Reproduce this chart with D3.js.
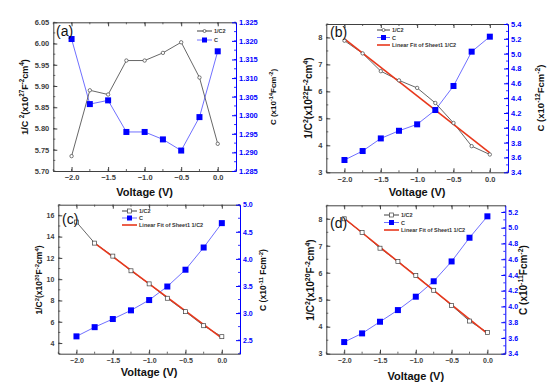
<!DOCTYPE html>
<html>
<head>
<meta charset="utf-8">
<script src="https://cdnjs.cloudflare.com/ajax/libs/d3/7.8.5/d3.min.js"></script>
<style>
  body { margin: 0; background: #fff; }
  svg { font-family: "Liberation Sans", Arial, sans-serif; }
</style>
</head>
<body>
<svg id="chart" width="554" height="385"></svg>
<script>
var voltage = [-2.0, -1.75, -1.5, -1.25, -1.0, -0.75, -0.5, -0.25, 0.0];

// panel (a)
var invC2_a = [5.735, 5.890, 5.880, 5.960, 5.960, 5.978, 6.003, 5.920, 5.764];
var cap_a = [1.3205, 1.3030, 1.3040, 1.2955, 1.2955, 1.2935, 1.2905, 1.2995, 1.3172];
// panel (b)
var invC2_b = [7.88, 7.41, 6.75, 6.41, 6.13, 5.57, 4.83, 3.97, 3.66];
var cap_b = [3.566, 3.687, 3.857, 3.960, 4.047, 4.240, 4.564, 5.027, 5.229];
var fit_b = [[-2.0, 7.95], [0.0, 3.72]];
// panel (c)
var invC2_c = [15.37, 13.39, 12.17, 10.79, 9.56, 8.21, 6.95, 5.63, 4.60];
var cap_c = [2.57, 2.74, 2.89, 3.05, 3.24, 3.49, 3.80, 4.21, 4.66];
var fit_c = [[-1.75, 13.39], [0.0, 4.47]];
// panel (d)
var invC2_d = [8.00, 7.49, 6.91, 6.42, 5.90, 5.35, 4.79, 4.21, 3.79];
var cap_d = [3.548, 3.658, 3.806, 3.954, 4.124, 4.320, 4.572, 4.873, 5.145];
var fit_d = [[-2.0, 8.02], [0.0, 3.74]];

var xTicks = [-2.0, -1.5, -1.0, -0.5, 0.0];
var legendNames = ["1/C2", "C", "Linear Fit of Sheet1 1/C2"];

var svg = d3.select("#chart");
var BLUE = "#0000ff", BLUE_LINE = "#7070ff", GREY = "#404040", RED = "#e8381c";
var FONT = "Liberation Sans, Arial, sans-serif";

function minorTicks(dom, step) {
  return d3.range(Math.ceil(dom[0] / step - 1e-6), Math.floor(dom[1] / step + 1e-6) + 1).map(function (k) { return k * step; });
}

// text with superscripts: parts are strings or {s: "sup"}
function label(t, parts, fs) {
  var shift = fs * 0.4, up = false;
  parts.forEach(function (pt) {
    if (typeof pt === "string") {
      var sp = t.append("tspan").text(pt);
      if (up) { sp.attr("dy", shift); up = false; }
    } else {
      t.append("tspan").attr("dy", up ? 0 : -shift).attr("font-size", fs * 0.7).text(pt.s);
      up = true;
    }
  });
}

function openMark(sel, round, s) {
  sel.attr("fill", "#fff").attr("stroke", GREY).attr("stroke-width", 0.7);
  if (round) sel.attr("r", s / 2);
  else sel.attr("width", s).attr("height", s);
  return sel;
}

function drawPanel(p) {
  var g = svg.append("g");
  var x = d3.scaleLinear().domain([-2.25, 0.25]).range([p.box[0], p.box[1]]);
  var yl = d3.scaleLinear().domain(p.yl).range([p.box[3], p.box[2]]);
  var yr = d3.scaleLinear().domain(p.yr).range([p.box[3], p.box[2]]);

  // minor ticks
  var xm = minorTicks([-2.25, 0.25], 0.25);
  [p.box[3], p.box[2]].forEach(function (yy, i) {
    g.selectAll(null).data(xm).enter().append("line")
      .attr("x1", function (d) { return x(d); }).attr("x2", function (d) { return x(d); })
      .attr("y1", yy).attr("y2", yy + (i === 0 ? -2 : 2))
      .attr("stroke", GREY).attr("stroke-width", 0.8);
  });
  g.selectAll(null).data(minorTicks(p.yl, p.ylMinor)).enter().append("line")
    .attr("x1", p.box[0]).attr("x2", p.box[0] + 2)
    .attr("y1", function (d) { return yl(d); }).attr("y2", function (d) { return yl(d); })
    .attr("stroke", GREY).attr("stroke-width", 0.8);
  g.selectAll(null).data(minorTicks(p.yr, p.yrMinor)).enter().append("line")
    .attr("x1", p.box[1]).attr("x2", p.box[1] - 2)
    .attr("y1", function (d) { return yr(d); }).attr("y2", function (d) { return yr(d); })
    .attr("stroke", BLUE).attr("stroke-width", 0.8);

  // axes
  var ax = g.append("g").attr("transform", "translate(0," + p.box[3] + ")")
    .call(d3.axisBottom(x).tickValues(xTicks).tickFormat(d3.format(".1f")).tickSizeInner(-4).tickSizeOuter(0).tickPadding(4));
  var at = g.append("g").attr("transform", "translate(0," + p.box[2] + ")")
    .call(d3.axisTop(x).tickValues(xTicks).tickFormat("").tickSizeInner(-4).tickSizeOuter(0));
  var al = g.append("g").attr("transform", "translate(" + p.box[0] + ",0)")
    .call(d3.axisLeft(yl).tickValues(p.ylTicks).tickFormat(d3.format(p.ylFmt)).tickSizeInner(-4).tickSizeOuter(0).tickPadding(4));
  var ar = g.append("g").attr("transform", "translate(" + p.box[1] + ",0)")
    .call(d3.axisRight(yr).tickValues(p.yrTicks).tickFormat(d3.format(p.yrFmt)).tickSizeInner(-4).tickSizeOuter(0).tickPadding(3));

  [ax, at, al].forEach(function (a) {
    a.selectAll("path, line").attr("stroke", GREY).attr("stroke-width", 1);
    a.selectAll("text").attr("fill", GREY).attr("font-size", p.tickFont).attr("font-weight", "bold").attr("font-family", FONT);
  });
  ar.selectAll("path, line").attr("stroke", BLUE).attr("stroke-width", 1);
  ar.selectAll("text").attr("fill", BLUE).attr("font-size", p.tickFont).attr("font-weight", "bold").attr("font-family", FONT);

  // series lines
  var lineL = d3.line().x(function (d, i) { return x(voltage[i]); }).y(function (d) { return yl(d); });
  var lineR = d3.line().x(function (d, i) { return x(voltage[i]); }).y(function (d) { return yr(d); });
  g.append("path").attr("d", lineR(p.cap)).attr("fill", "none").attr("stroke", BLUE_LINE).attr("stroke-width", 1);
  g.append("path").attr("d", lineL(p.inv)).attr("fill", "none").attr("stroke", GREY).attr("stroke-width", 0.8);
  if (p.fit) {
    g.append("path").attr("d", d3.line().x(function (d) { return x(d[0]); }).y(function (d) { return yl(d[1]); })(p.fit))
      .attr("fill", "none").attr("stroke", RED).attr("stroke-width", 1.6);
  }
  var ms = p.markSize;
  if (p.round) {
    openMark(g.selectAll(null).data(p.inv).enter().append("circle")
      .attr("cx", function (d, i) { return x(voltage[i]); })
      .attr("cy", function (d) { return yl(d); }), true, ms);
  } else {
    openMark(g.selectAll(null).data(p.inv).enter().append("rect")
      .attr("x", function (d, i) { return x(voltage[i]) - ms / 2; })
      .attr("y", function (d) { return yl(d) - ms / 2; }), false, ms);
  }
  g.selectAll(null).data(p.cap).enter().append("rect")
    .attr("x", function (d, i) { return x(voltage[i]) - 3; })
    .attr("y", function (d) { return yr(d) - 3; })
    .attr("width", 6).attr("height", 6)
    .attr("fill", BLUE);

  // legend
  var lg = p.legend;
  var items = p.fit ? 3 : 2;
  for (var k = 0; k < items; k++) {
    var ly = lg.y + k * lg.dy;
    var col = k === 0 ? GREY : (k === 1 ? BLUE_LINE : RED);
    g.append("line").attr("x1", lg.x).attr("x2", lg.x + lg.w).attr("y1", ly).attr("y2", ly)
      .attr("stroke", col).attr("stroke-width", k === 2 ? 1.6 : 1);
    if (k === 0) {
      if (p.round) openMark(g.append("circle").attr("cx", lg.x + lg.w / 2).attr("cy", ly), true, lg.ms);
      else openMark(g.append("rect").attr("x", lg.x + lg.w / 2 - lg.ms / 2).attr("y", ly - lg.ms / 2), false, lg.ms);
    } else if (k === 1) {
      g.append("rect").attr("x", lg.x + lg.w / 2 - 2.5).attr("y", ly - 2.5).attr("width", 5).attr("height", 5).attr("fill", BLUE);
    }
    g.append("text").attr("x", lg.x + lg.w + 2).attr("y", ly + 2)
      .attr("font-size", lg.font).attr("font-weight", "bold").attr("fill", "#333").text(legendNames[k]);
  }

  // panel letter
  g.append("text").attr("x", p.letter[0]).attr("y", p.letter[1])
    .attr("font-size", 14).attr("fill", "#111").text(p.name);

  // axis titles
  g.append("text").attr("x", (p.box[0] + p.box[1]) / 2).attr("y", p.xTitleY)
    .attr("text-anchor", "middle").attr("font-size", 11).attr("font-weight", "bold").attr("fill", "#111").text("Voltage (V)");
  var lt = g.append("text").attr("transform", "translate(" + p.ylTitle[0] + "," + p.ylTitle[1] + ") rotate(-90)")
    .attr("text-anchor", "middle").attr("font-size", p.titleFont).attr("font-weight", "bold").attr("fill", "#111");
  label(lt, p.ylLabel, p.titleFont);
  var rt = g.append("text").attr("transform", "translate(" + p.yrTitle[0] + "," + p.yrTitle[1] + ") rotate(-90)")
    .attr("text-anchor", "middle").attr("font-size", p.titleFontR).attr("font-weight", "bold").attr("fill", "#111");
  label(rt, p.yrLabel, p.titleFontR);
}

drawPanel({
  name: "(a)", box: [53.3, 236, 22.3, 171], yl: [5.70, 6.05], yr: [1.285, 1.325],
  ylTicks: d3.range(0, 8).map(function (k) { return 5.70 + k * 0.05; }), ylFmt: ".2f", ylMinor: 0.025,
  yrTicks: d3.range(0, 9).map(function (k) { return 1.285 + k * 0.005; }), yrFmt: ".3f", yrMinor: 0.0025,
  inv: invC2_a, cap: cap_a, fit: null, markSize: 3.4, round: true,
  legend: { x: 197, y: 31, dy: 9, w: 15, ms: 3, font: 5.5 },
  letter: [56, 36], xTitleY: 196, tickFont: 7.5, titleFont: 9, titleFontR: 8,
  ylTitle: [28, 97], yrTitle: [276, 97],
  ylLabel: ["1/C ", { s: "2" }, "(x10", { s: "27" }, "F", { s: "-2" }, "cm", { s: "4" }, ")"],
  yrLabel: ["C (x10", { s: "-14" }, "Fcm", { s: "-2" }, ")"]
});

drawPanel({
  name: "(b)", box: [326.3, 508, 24, 172.3], yl: [3, 8.5], yr: [3.4, 5.4],
  ylTicks: [3, 4, 5, 6, 7, 8], ylFmt: "d", ylMinor: 0.5,
  yrTicks: d3.range(0, 11).map(function (k) { return 3.4 + k * 0.2; }), yrFmt: ".1f", yrMinor: 0.1,
  inv: invC2_b, cap: cap_b, fit: fit_b, markSize: 3.4, round: true,
  legend: { x: 377, y: 30, dy: 7.5, w: 13, ms: 3, font: 5.5 },
  letter: [330, 37], xTitleY: 196, tickFont: 7.5, titleFont: 10, titleFontR: 9.5,
  ylTitle: [312, 98], yrTitle: [544, 98],
  ylLabel: ["1/C", { s: "2" }, "(x10", { s: "22" }, "F", { s: "-2" }, "cm", { s: "4" }, ")"],
  yrLabel: ["C (x10", { s: "-12" }, "Fcm", { s: "-2" }, ")"]
});

drawPanel({
  name: "(c)", box: [58.3, 240, 204.7, 353.7], yl: [3, 17], yr: [2.25, 5.0],
  ylTicks: [4, 6, 8, 10, 12, 14, 16], ylFmt: "d", ylMinor: 1,
  yrTicks: [2.5, 3.0, 3.5, 4.0, 4.5, 5.0], yrFmt: ".1f", yrMinor: 0.25,
  inv: invC2_c, cap: cap_c, fit: fit_c, markSize: 4, round: false,
  legend: { x: 122, y: 211, dy: 7, w: 15, ms: 4, font: 5.5 },
  letter: [62, 224], xTitleY: 376, tickFont: 7, titleFont: 8.5, titleFontR: 8.5,
  ylTitle: [42, 280], yrTitle: [266, 280],
  ylLabel: ["1/C", { s: "2" }, "(x10", { s: "20" }, "F", { s: "-2" }, "cm", { s: "4" }, ")"],
  yrLabel: ["C (x10", { s: "-11" }, " Fcm", { s: "-2" }, ")"]
});

drawPanel({
  name: "(d)", box: [326.3, 505.3, 205.3, 353.7], yl: [3, 8.5], yr: [3.4, 5.285],
  ylTicks: [3, 4, 5, 6, 7, 8], ylFmt: "d", ylMinor: 0.5,
  yrTicks: d3.range(0, 10).map(function (k) { return 3.4 + k * 0.2; }), yrFmt: ".1f", yrMinor: 0.1,
  inv: invC2_d, cap: cap_d, fit: fit_d, markSize: 4, round: false,
  legend: { x: 384, y: 215, dy: 7.5, w: 15, ms: 4, font: 5.5 },
  letter: [330, 228], xTitleY: 380, tickFont: 7, titleFont: 10, titleFontR: 10,
  ylTitle: [314, 280], yrTitle: [527, 280],
  ylLabel: ["1/C", { s: "2" }, "(x10", { s: "20" }, "F", { s: "-2" }, "cm", { s: "4" }, ")"],
  yrLabel: ["C (x10", { s: "-11" }, "Fcm", { s: "-2" }, ")"]
});
</script>
</body>
</html>
